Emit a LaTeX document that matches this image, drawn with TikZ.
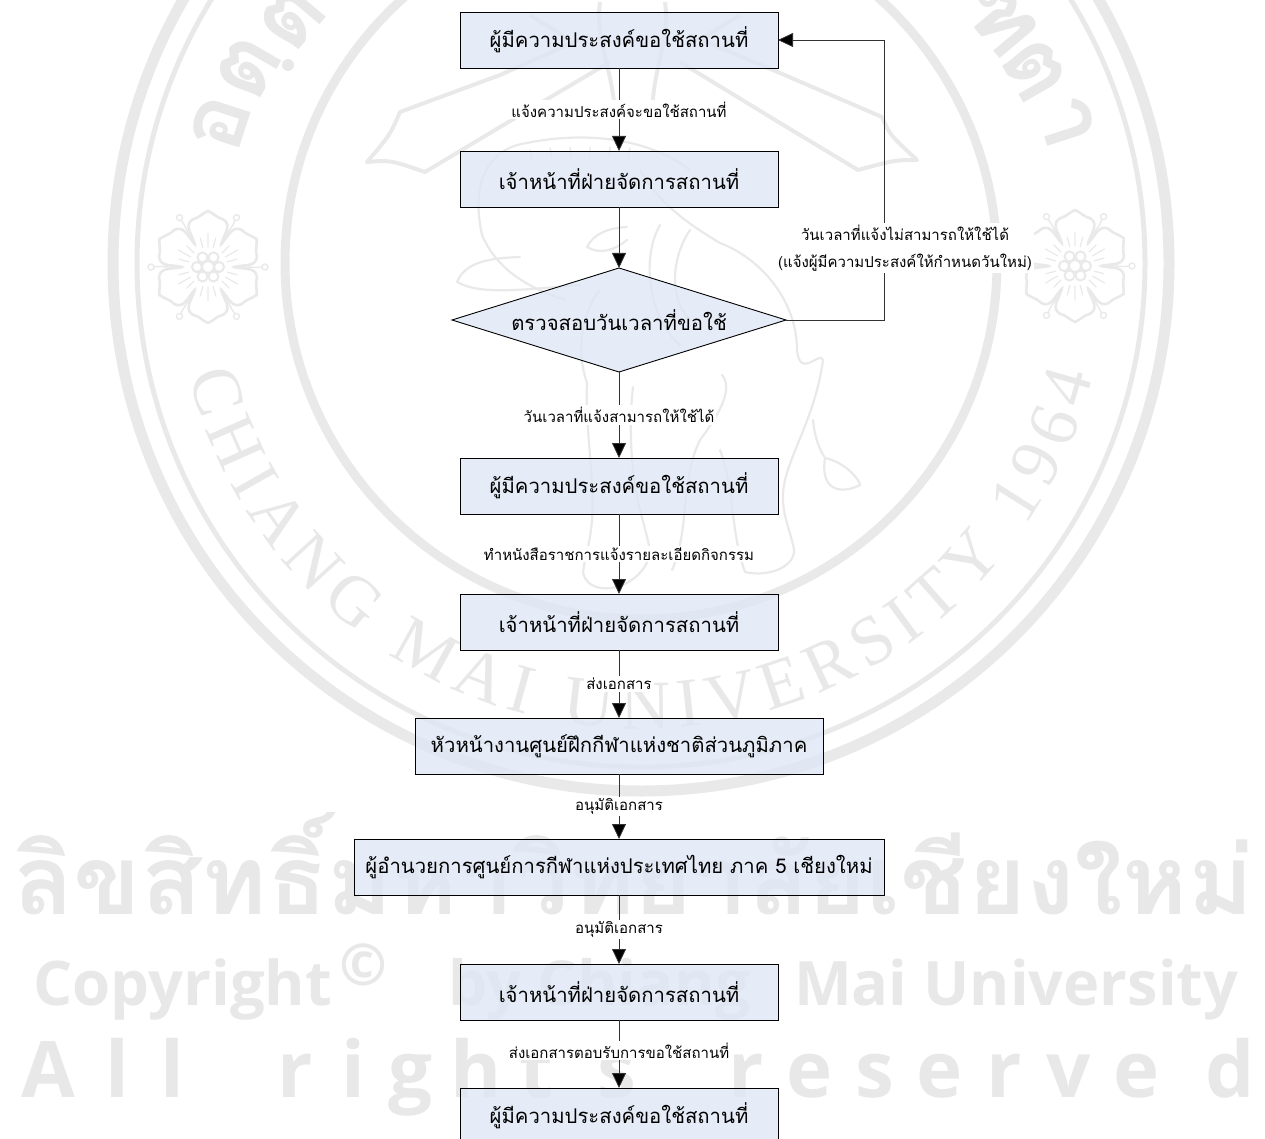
\documentclass[tikz,border=0pt]{standalone}
\usepackage{fontspec}
\usepackage{graphicx}
\usetikzlibrary{arrows.meta,shapes.geometric,decorations.text}
\setmainfont{Liberation Serif}
\newfontfamily\thaifont[Script=Thai]{Loma}
\newfontfamily\thaiwm[Script=Thai]{Loma}
\newfontfamily\wmsans{Open Sans}
\definecolor{wmgray}{HTML}{E9E9E9}
\definecolor{wmtext}{HTML}{E8E8E8}
\definecolor{boxfill}{HTML}{E0E7F5}
\tikzset{
  flowbox/.style={draw=black,line width=0.9pt,fill=boxfill,fill opacity=.8,text opacity=1,minimum height=56pt,inner sep=0pt,outer sep=0pt,font=\thaifont\fontsize{20.3}{24}\selectfont},
  decide/.style={flowbox,shape=diamond,aspect=3.21,minimum width=334pt,minimum height=104pt},
  conn/.style={draw=black!80,line width=0.8pt,-{Triangle[width=14pt,length=15pt,fill=black]}},
  lab/.style={fill=white,inner sep=2pt,align=center,font=\thaifont\fontsize{15}{27}\selectfont},
  wm/.style={draw=wmgray,line width=4pt,line join=round,fill=none},
  wmthin/.style={draw=wmgray,line width=2.2pt,line cap=round,fill=none},
}
\newcommand{\wmflower}[2]{%
  \begin{scope}[shift={(#1,#2)}]
    \foreach \a in {30,90,...,330}{
      \begin{scope}[rotate=\a]
      \draw[wmthin,line width=2.6pt] (-30:26) .. controls (-26:38) and (-30:48) .. (-18:50) .. controls (-10:50) and (-6:54) .. (0:56) .. controls (6:54) and (10:50) .. (18:50) .. controls (30:48) and (26:38) .. (30:26);
      \draw[wmthin,line width=1.4pt] (30:24) .. controls (32:38) and (28:46) .. (30:54);
      \draw[wmgray,line width=1.4pt,fill=none] (30:57) circle (3pt);
      \draw[wmthin,line width=1.2pt] (20,0) -- (34,0) (15:20) -- (15:30) (-15:20) -- (-15:30);
      \end{scope}
    }
    \draw[wmthin] (0,0) circle (6pt);
    \foreach \a in {0,60,...,300}{\draw[wmthin,line width=2pt] (\a:11) circle (5pt);}
  \end{scope}}
\begin{document}
\begin{tikzpicture}[x=1pt,y=1pt]
\useasboundingbox (0,0) rectangle (1265,-1139);
\begin{scope}
\clip (0,0) rectangle (1265,-1139);
% --- watermark seal
\coordinate (sc) at (641,-263);
\draw[wmgray,line width=11pt] (sc) circle (528pt);
\draw[wmgray,line width=5pt] (sc) circle (504pt);
\draw[wmgray,line width=9pt] (sc) circle (356pt);
\path[decorate,decoration={text along path,text align={fit to path},
  text={|\fontsize{70}{70}\selectfont\color{wmtext}|CHIANG MAI UNIVERSITY 1964}}]
  (sc) ++(194:466) arc[start angle=194,end angle=346,radius=466];
\foreach \g/\x/\y/\r in {อ/220/123/72,ต/248/68/60,ต/292/18/50,า/1067/122/-72,ต/1035/70/-60,ฑ/1000/18/-50}{
  \node[text=wmtext,font=\thaiwm\bfseries\fontsize{92}{92}\selectfont,rotate=\r,inner sep=0pt] at (\x,-\y) {\g};}
\fill[wmtext] (288,-65) circle (6pt);
% rays of the seal
\draw[wm] (590,-35) -- (500,-75) -- (400,-112) .. controls (390,-135) .. (367,-162) .. controls (390,-160) .. (425,-172) -- (500,-127) -- (610,-62);
\draw[wm] (690,-35) -- (780,-73) -- (882,-117) .. controls (890,-135) .. (917,-160) .. controls (895,-160) .. (858,-170) -- (780,-123) -- (680,-62);
\draw[wm] (600,-2) .. controls (595,-40) and (610,-60) .. (615,-110) (665,-2) .. controls (670,-40) and (655,-60) .. (652,-110);
\draw[wm] (570,-40) -- (530,-15) (700,-40) -- (740,-15);
% elephant
\draw[wmthin] (482,-235) .. controls (470,-180) and (490,-148) .. (527,-143) .. controls (570,-134) and (640,-132) .. (690,-170);
\draw[wmthin,line width=1.4pt] (530,-150) -- (532,-160) (550,-148) -- (552,-158) (570,-147) -- (571,-157) (590,-147) -- (590,-157) (610,-147) -- (609,-157) (630,-148) -- (628,-158);
\draw[wmthin] (640,-170) .. controls (660,-205) and (690,-225) .. (720,-243) .. controls (760,-258) and (797,-300) .. (797,-350) .. controls (800,-380) and (820,-350) .. (823,-360);
\draw[wmthin] (823,-360) .. controls (815,-420) and (785,-460) .. (783,-493) .. controls (782,-515) and (790,-530) .. (793,-545) .. controls (800,-565) and (770,-578) .. (745,-572);
\draw[wmthin] (482,-235) .. controls (495,-265) and (520,-285) .. (565,-300);
\draw[wmthin] (457,-282) .. controls (465,-262) and (490,-258) .. (520,-257) (457,-282) .. controls (480,-295) and (520,-290) .. (580,-285);
\draw[wmthin] (587,-383) .. controls (585,-430) and (595,-480) .. (592,-520) .. controls (590,-545) and (585,-555) .. (583,-573);
\draw[wmthin] (633,-387) .. controls (628,-430) and (632,-480) .. (640,-510) .. controls (645,-530) and (650,-545) .. (650,-555);
\draw[wmthin] (583,-573) .. controls (590,-600) and (640,-590) .. (650,-555);
\draw[wmthin] (587,-383) .. controls (572,-340) and (590,-300) .. (600,-290);
\draw[wmthin] (700,-440) .. controls (680,-480) and (690,-530) .. (672,-570) (720,-450) .. controls (735,-490) and (730,-530) .. (745,-572);
\draw[wmthin] (700,-440) .. controls (715,-420) and (735,-390) .. (722,-375);
\draw[wmthin] (813,-420) .. controls (815,-440) and (820,-450) .. (825,-458) .. controls (845,-462) and (860,-480) .. (860,-485) .. controls (840,-495) and (820,-490) .. (825,-458);
\draw[wmthin] (587,-247) .. controls (595,-232) and (610,-228) .. (627,-227) (587,-247) .. controls (600,-255) and (615,-250) .. (627,-240);
\draw[wmthin] (660,-225) .. controls (640,-260) and (650,-320) .. (680,-345) (690,-230) .. controls (670,-260) and (670,-300) .. (690,-320);
\wmflower{208}{-267}
\wmflower{1075}{-266}
% --- watermark text
\node[anchor=base west,inner sep=0pt,text=wmtext,font=\thaiwm\bfseries\fontsize{100}{100}\selectfont] at (13,-914) {\resizebox{1240pt}{102pt}{ลิขสิทธิ์มหาวิทยาลัยเชียงใหม่}};
\begin{scope}[every node/.style={anchor=base west,inner sep=0pt,text=wmtext,font=\wmsans\bfseries\fontsize{72}{72}\selectfont}]
\node at (33,-1005) {\resizebox{299pt}{!}{Copyright}};
\node at (339,-985) {\resizebox{48pt}{!}{©}};
\node at (448,-1005) {\resizebox{302pt}{!}{by Chiang}};
\node at (794,-1005) {\resizebox{444pt}{!}{Mai University}};
\end{scope}
\foreach \c/\x in {A/48,l/117,l/172,r/295,i/353,g/411,h/476,t/536,s/617,r/746,e/810,s/875,e/940,r/1004,v/1069,e/1137,d/1230}{
  \node[anchor=base,inner sep=0pt,text=wmtext,font=\wmsans\bfseries\fontsize{78}{78}\selectfont] at (\x,-1097) {\c};}
% --- flow chart
\node[flowbox,minimum width=318pt] (b1) at (619,-40) {ผู้มีความประสงค์ขอใช้สถานที่};
\node[flowbox,minimum width=318pt] (b2) at (619,-179) {เจ้าหน้าที่ฝ่ายจัดการสถานที่};
\node[decide] (d) at (619,-320) {ตรวจสอบวันเวลาที่ขอใช้};
\node[flowbox,minimum width=318pt] (b3) at (619,-486) {ผู้มีความประสงค์ขอใช้สถานที่};
\node[flowbox,minimum width=318pt] (b4) at (619,-622) {เจ้าหน้าที่ฝ่ายจัดการสถานที่};
\node[flowbox,minimum width=408pt] (b5) at (619,-746) {หัวหน้างานศูนย์ฝึกกีฬาแห่งชาติส่วนภูมิภาค};
\node[flowbox,minimum width=530pt] (b6) at (619,-867) {ผู้อำนวยการศูนย์การกีฬาแห่งประเทศไทย ภาค 5 เชียงใหม่};
\node[flowbox,minimum width=318pt] (b7) at (619,-992) {เจ้าหน้าที่ฝ่ายจัดการสถานที่};
\node[flowbox,minimum width=318pt] (b8) at (619,-1116) {ผู้มีความประสงค์ขอใช้สถานที่};
\draw[conn] (b1) -- node[lab]{แจ้งความประสงค์จะขอใช้สถานที่} (b2);
\draw[conn] (b2) -- (d);
\draw[conn] (d) -- node[lab]{วันเวลาที่แจ้งสามารถให้ใช้ได้} (b3);
\draw[conn] (b3) -- node[lab]{ทำหนังสือราชการแจ้งรายละเอียดกิจกรรม} (b4);
\draw[conn] (b4) -- node[lab]{ส่งเอกสาร} (b5);
\draw[conn] (b5) -- node[lab]{อนุมัติเอกสาร} (b6);
\draw[conn] (b6) -- node[lab]{อนุมัติเอกสาร} (b7);
\draw[conn] (b7) -- node[lab,pos=.45]{ส่งเอกสารตอบรับการขอใช้สถานที่} (b8);
\coordinate (c1) at (884,-320);
\coordinate (c2) at (884,-40);
\draw[conn] (d) -- (c1) -- node[lab,pos=.257,xshift=21pt]{วันเวลาที่แจ้งไม่สามารถให้ใช้ได้\\(แจ้งผู้มีความประสงค์ให้กำหนดวันใหม่)} (c2) -- (b1);
\end{scope}
\end{tikzpicture}
\end{document}
